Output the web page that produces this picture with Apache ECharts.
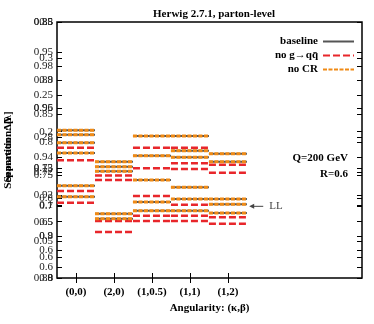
<!DOCTYPE html>
<html>
<head>
<meta charset="utf-8">
<script src="https://cdn.jsdelivr.net/npm/echarts@6/dist/echarts.min.js"></script>
<style>
  html, body { margin: 0; padding: 0; background: #fff; }
  #chart { width: 374px; height: 324px; }
</style>
</head>
<body>
<div id="chart"></div>
<script>
// categories on the x axis
const categories = ['(0,0)', '(2,0)', '(1,0.5)', '(1,1)', '(1,2)']

// step values per category, one row = one curve (null = not drawn)
const baselineRows = [
  [0.202, 0.159, 0.194, 0.194, 0.170],
  [0.196, 0.152, 0.167, 0.174, 0.159],
  [0.185, 0.146, 0.134, 0.165, 0.108],
  [0.171, 0.088, 0.104, 0.124, 0.101],
  [0.126, 0.081, 0.092, 0.108, 0.089],
  [0.111, null, null, 0.092, null],
]
const noGqqRows = [
  [0.178, 0.140, 0.178, 0.178, 0.155],
  [0.161, 0.134, 0.150, 0.157, 0.144],
  [0.119, 0.078, 0.112, 0.149, 0.083],
  [0.103, 0.063, 0.085, 0.100, 0.074],
  [null, null, 0.078, 0.085, null],
  [null, null, null, 0.078, null],
]
const noCRRows = [
  [0.202, 0.159, 0.194, 0.194, 0.170],
  [0.196, 0.152, 0.167, 0.174, 0.159],
  [0.185, 0.146, 0.134, 0.165, 0.108],
  [0.171, 0.088, 0.104, 0.124, 0.101],
  [0.126, 0.081, 0.092, 0.108, 0.089],
  [0.111, null, null, 0.092, null],
]

// extra (overlapping) tick labels: [position on the main axis, text]
const yLabelsB = [
  [0.35, '0.85'], [0.309, '0.95'], [0.290, '0.98'], [0.271, '0.9'], [0.232, '0.96'],
  [0.186, '0.8'], [0.165, '0.94'], [0.141, '0.75'], [0.113, '0.92'], [0.098, '0.7'],
  [0.077, '0.65'], [0.057, '0.9'], [0.038, '0.6'], [0, '0.88'],
]
const yLabelsC = [
  [0.35, '0.8'], [0.271, '0.88'], [0.232, '0.95'], [0.224, '0.85'], [0.193, '0.28'],
  [0.150, '0.73'], [0.145, '0.72'], [0.109, '0.8'], [0.077, '0.5'], [0.057, '0.8'],
  [0.029, '0.6'], [0.015, '0.6'], [0, '0.8'],
]
const yMainTicks = [0, 0.05, 0.1, 0.15, 0.2, 0.25, 0.3, 0.35]

const FONT = 'Liberation Serif'
const GRAY = '#555'
const RED = '#e8262b'
const ORANGE = '#f08a15'

const dom = document.getElementById('chart')
const myChart = echarts.init(dom)

// split a row into separate horizontal pieces, one per category
const segments = (row) => {
  const out = []
  row.forEach((v, i) => {
    if (v === null) return
    out.push([i + 0.5, v], [i + 1.5, v], [i + 1.5, '-'])
  })
  return out
}

const labelAxis = (list, name) => ({
  type: 'value',
  min: 0,
  max: 0.35,
  position: 'left',
  name: name,
  nameLocation: 'middle',
  nameGap: 43,
  nameRotate: 90,
  nameTextStyle: { fontFamily: FONT, fontWeight: 'bold', fontSize: 11, color: '#000' },
  axisLine: { show: false },
  splitLine: { show: false },
  axisTick: { inside: true, length: 5, lineStyle: { color: '#000' }, customValues: list.map(d => d[0]) },
  axisLabel: {
    customValues: list.map(d => d[0]),
    formatter: (val) => {
      const hit = list.find(d => d[0] === val)
      return hit ? hit[1] : ''
    },
    fontFamily: FONT,
    fontSize: 11,
    color: '#222',
    margin: 4,
  },
})

const allTicks = yMainTicks.concat(yLabelsB.map(d => d[0]), yLabelsC.map(d => d[0]))

const series = []
baselineRows.forEach(row => series.push({
  name: 'baseline', type: 'line', symbol: 'none', silent: true, z: 2, color: GRAY,
  data: segments(row), lineStyle: { color: GRAY, width: 2 },
}))
noGqqRows.forEach(row => series.push({
  name: 'no g→qq\u0304', type: 'line', symbol: 'none', silent: true, z: 3, color: RED,
  data: segments(row), lineStyle: { color: RED, width: 2.5, type: [7, 3] },
}))
noCRRows.forEach(row => series.push({
  name: 'no CR', type: 'line', symbol: 'none', silent: true, z: 4, color: ORANGE,
  data: segments(row), lineStyle: { color: ORANGE, width: 3, type: [4, 1.5] },
}))

const option = {
  backgroundColor: '#fff',
  animation: false,
  title: {
    text: 'Herwig 2.7.1, parton-level',
    left: 209,
    textAlign: 'center',
    top: 4,
    textStyle: { fontFamily: FONT, fontWeight: 'bold', fontSize: 11, color: '#000' },
  },
  legend: {
    orient: 'vertical',
    right: 14,
    top: 31,
    align: 'right',
    itemWidth: 31,
    itemHeight: 10,
    itemGap: 3,
    itemStyle: { opacity: 0 },
    data: ['baseline', 'no g→qq\u0304', 'no CR'],
    textStyle: { fontFamily: FONT, fontWeight: 'bold', fontSize: 11, color: '#000', padding: [0, 0, 0, 0] },
  },
  grid: {
    left: 57, right: 12, top: 22, bottom: 46,
    show: true, borderColor: '#000', borderWidth: 1.5,
    outerBoundsMode: 'none',
  },
  xAxis: [
    {
      type: 'value', min: 0.5, max: 8.53, position: 'bottom',
      name: 'Angularity: (κ,β)', nameLocation: 'middle', nameGap: 24,
      nameTextStyle: { fontFamily: FONT, fontWeight: 'bold', fontSize: 11, color: '#000' },
      axisLine: { show: false }, splitLine: { show: false },
      axisTick: { inside: true, length: 5, lineStyle: { color: '#000' }, customValues: [1, 2, 3, 4, 5] },
      axisLabel: {
        customValues: [1, 2, 3, 4, 5],
        formatter: (v) => categories[Math.round(v) - 1] || '',
        fontFamily: FONT, fontWeight: 'bold', fontSize: 11, color: '#000', margin: 9,
      },
    },
    {
      type: 'value', min: 0.5, max: 8.53, position: 'top',
      axisLine: { show: false }, splitLine: { show: false },
      axisTick: { inside: true, length: 5, lineStyle: { color: '#000' }, customValues: [1, 2, 3, 4, 5] },
      axisLabel: { show: false },
    },
  ],
  yAxis: [
    labelAxis(yMainTicks.map(v => [v, String(v)]), 'Separation: Δ[λ]'),
    labelAxis(yLabelsB, 'Separation: Δ'),
    labelAxis(yLabelsC, ''),
    {
      type: 'value', min: 0, max: 0.35, position: 'right',
      axisLine: { show: false }, splitLine: { show: false },
      axisTick: { inside: true, length: 5, lineStyle: { color: '#000' }, customValues: allTicks },
      axisLabel: { show: false },
    },
  ],
  series: series,
}

myChart.setOption(option)

// text notes and the "LL" marker next to the (1,2) column
const a0 = myChart.convertToPixel({ xAxisIndex: 0, yAxisIndex: 0 }, [5.93, 0.098])
const a1 = myChart.convertToPixel({ xAxisIndex: 0, yAxisIndex: 0 }, [5.56, 0.098])
myChart.setOption({
  graphic: [
    {
      id: 'q', type: 'text', right: 26, top: 153,
      style: { text: 'Q=200 GeV', font: 'bold 11px "Liberation Serif"', fill: '#000' },
    },
    {
      id: 'r', type: 'text', right: 26, top: 169,
      style: { text: 'R=0.6', font: 'bold 11px "Liberation Serif"', fill: '#000' },
    },
    {
      id: 'llLine', type: 'line', shape: { x1: a0[0], y1: a0[1], x2: a1[0] + 3, y2: a1[1] },
      style: { stroke: '#444', lineWidth: 1 },
    },
    {
      id: 'llHead', type: 'polygon',
      shape: { points: [[a1[0], a1[1]], [a1[0] + 5, a1[1] - 2.5], [a1[0] + 5, a1[1] + 2.5]] },
      style: { fill: '#444' },
    },
    {
      id: 'llText', type: 'text', x: a0[0] + 6, y: a0[1] - 6,
      style: { text: 'LL', font: '11px "Liberation Serif"', fill: '#444' },
    },
  ],
})

window.addEventListener('resize', () => myChart.resize())
</script>
</body>
</html>
